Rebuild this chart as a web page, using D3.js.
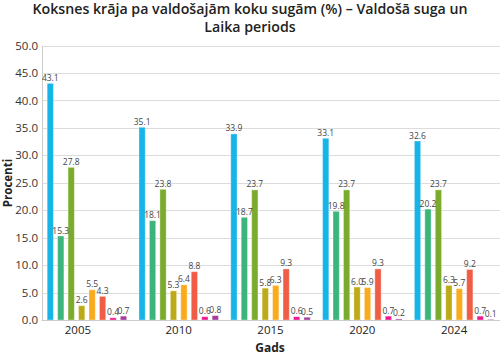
<!DOCTYPE html>
<html><head><meta charset="utf-8">
<script src="https://cdn.jsdelivr.net/npm/d3@7"></script>
<style>body{margin:0;background:#fff;}svg{display:block;font-family:"Open Sans",sans-serif;}</style>
</head><body>
<svg id="c" width="500" height="356"></svg>
<script>
const years = ["2005","2010","2015","2020","2024"];
const seriesNames = ["s1","s2","s3","s4","s5","s6","s7","s8"];
const colors = ["#17b4e8","#3bb57b","#7aab2d","#bcaa16","#fbaa1b","#f05c45","#ec168c","#a33c9b"];
const v2005 = [43.1,15.3,27.8,2.6,5.5,4.3,0.4,0.7];
const v2010 = [35.1,18.1,23.8,5.3,6.4,8.8,0.6,0.8];
const v2015 = [33.9,18.7,23.7,5.8,6.3,9.3,0.6,0.5];
const v2020 = [33.1,19.8,23.7,6.0,5.9,9.3,0.7,0.2];
const v2024 = [32.6,20.2,23.7,6.3,5.7,9.2,0.7,0.1];
const yTicks = [0,5,10,15,20,25,30,35,40,45,50];
const values = [v2005,v2010,v2015,v2020,v2024];

const svg = d3.select("#c");
const L = 42, R = 500, T = 45.5, B = 320;
const x0 = d3.scaleBand().domain(years).range([L-1, R]).padding(0);
const x1 = d3.scaleBand().domain(seriesNames).range([0, x0.bandwidth()]).paddingInner(0.4).paddingOuter(0.59);
const y = d3.scaleLinear().domain([0,50]).range([B, T]);

// title
const title = svg.append("text").attr("x",250).attr("text-anchor","middle")
  .attr("font-size",14.2).attr("font-weight",600).attr("fill","#222");
title.append("tspan").attr("x",250).attr("y",14).text("Koksnes krāja pa valdošajām koku sugām (%) – Valdošā suga un");
title.append("tspan").attr("x",250).attr("y",31.5).text("Laika periods");

// grid
svg.append("g").selectAll("line").data(yTicks).join("line")
  .attr("x1",L).attr("x2",R).attr("y1",d=>Math.round(y(d))+0.5).attr("y2",d=>Math.round(y(d))+0.5)
  .attr("stroke","#dcdcdc").attr("stroke-width",1);

// y axis
const ya = svg.append("g").attr("transform",`translate(${L},0)`)
  .call(d3.axisLeft(y).tickValues(yTicks).tickFormat(d3.format(".1f")).tickSize(0).tickPadding(4));
ya.select(".domain").attr("stroke","#ccc");
ya.selectAll("text").attr("font-size",11.5).attr("fill","#333").attr("font-family","Open Sans");

// bars
const groups = svg.append("g").selectAll("g").data(years).join("g")
  .attr("transform",d=>`translate(${x0(d)},0)`);
groups.each(function(yr,i){
  const g = d3.select(this);
  const data = values[i].map((v,j)=>({k:seriesNames[j],v,c:colors[j]}));
  g.selectAll("rect").data(data).join("rect")
    .attr("x",d=>x1(d.k)).attr("width",x1.bandwidth())
    .attr("y",d=>y(d.v)).attr("height",d=>B-y(d.v))
    .attr("fill",d=>d.c).attr("stroke","#fff").attr("stroke-opacity",0.35).attr("stroke-width",1);
  g.selectAll("text").data(data).join("text")
    .attr("x",d=>x1(d.k)+x1.bandwidth()/2).attr("y",d=>y(d.v)-2.5)
    .attr("text-anchor","middle").attr("font-size",8.5).attr("fill","#444")
    .text(d=>d.v.toFixed(1));
});

// x axis
const xa = svg.append("g").attr("transform",`translate(0,${B})`)
  .call(d3.axisBottom(x0).tickSize(0).tickPadding(6));
xa.select(".domain").attr("stroke","#ccc");
xa.selectAll("text").attr("font-size",11.5).attr("fill","#222").attr("font-family","Open Sans");
xa.selectAll(".tick").filter(d=>d==="2005").select("text").attr("dx",-9);

// axis titles
svg.append("text").attr("x",270).attr("y",352).attr("text-anchor","middle")
  .attr("font-size",12).attr("font-weight",700).attr("fill","#222").text("Gads");
svg.append("text").attr("transform","translate(12,183) rotate(-90)").attr("text-anchor","middle")
  .attr("font-size",11.5).attr("font-weight",700).attr("fill","#222").text("Procenti");
</script>
</body></html>
